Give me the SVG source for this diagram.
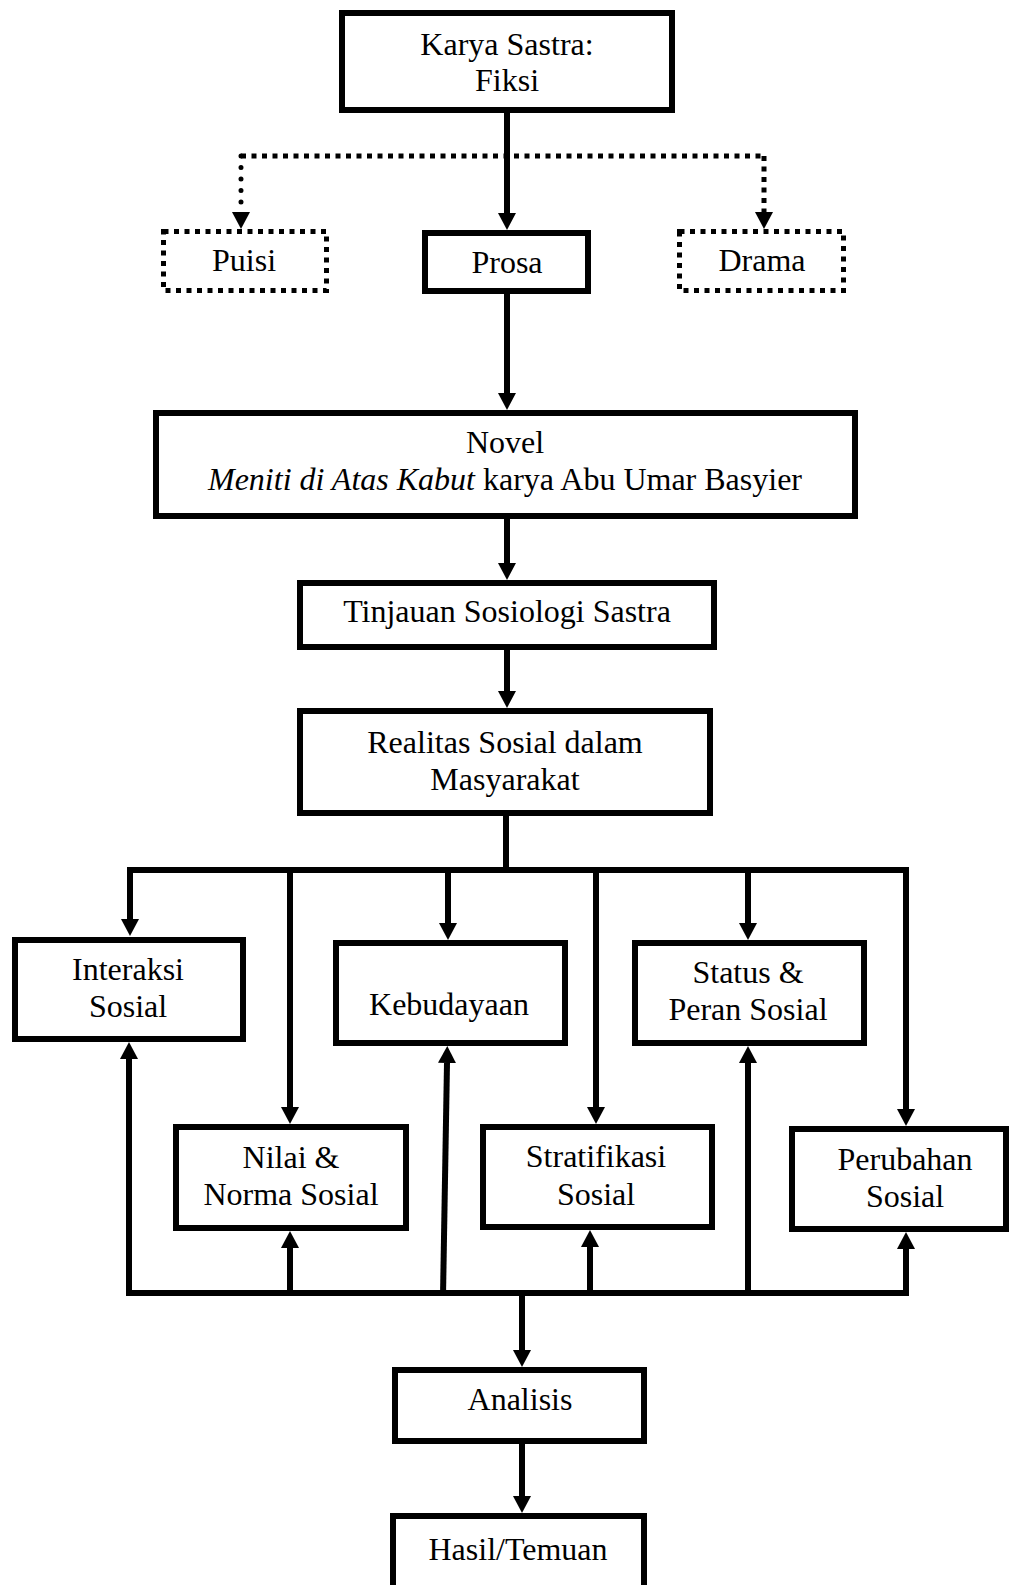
<svg xmlns="http://www.w3.org/2000/svg" width="1009" height="1585" viewBox="0 0 1009 1585">
<style>
.box{fill:#fff;stroke:#000;stroke-width:6}
.dbox{fill:#fff;stroke:#000;stroke-width:5;stroke-dasharray:5 5.5}
.ln{fill:none;stroke:#000;stroke-width:6}
.arr{fill:none;stroke:#000;stroke-width:6;marker-end:url(#ah)}
.dot{fill:none;stroke:#000;stroke-width:5;stroke-dasharray:5 5.5}
.t{font-family:"Liberation Serif","Times New Roman",serif;font-size:32px;fill:#000;text-anchor:middle}
</style>
<defs>
<marker id="ah" markerUnits="userSpaceOnUse" markerWidth="18" markerHeight="18" viewBox="0 0 18 18" refX="0" refY="9" orient="auto">
<path d="M0,0 L17,9 L0,18 z" fill="#000"/>
</marker>
</defs>
<rect width="1009" height="1585" fill="#fff"/>
<g id="connectors">
<line class="arr" x1="507" y1="113" x2="507" y2="213"/>
<line class="dot" x1="241" y1="156" x2="764" y2="156"/>
<line class="ln" x1="241" y1="156" x2="241" y2="212" style="stroke-width:5;stroke-dasharray:0 11.5;stroke-linecap:round;marker-end:url(#ah)"/>
<line class="dot" x1="764" y1="156" x2="764" y2="212" style="marker-end:url(#ah)"/>
<line class="arr" x1="507" y1="294" x2="507" y2="393"/>
<line class="arr" x1="507" y1="519" x2="507" y2="563"/>
<line class="arr" x1="507" y1="650" x2="507" y2="691"/>
<line class="ln" x1="506" y1="816" x2="506" y2="870"/>
<line class="ln" x1="127" y1="870" x2="909" y2="870"/>
<line class="arr" x1="130" y1="867" x2="130" y2="919"/>
<line class="arr" x1="290" y1="867" x2="290" y2="1107"/>
<line class="arr" x1="448" y1="867" x2="448" y2="923"/>
<line class="arr" x1="596" y1="867" x2="596" y2="1107"/>
<line class="arr" x1="748" y1="867" x2="748" y2="923"/>
<line class="arr" x1="906" y1="867" x2="906" y2="1109"/>
<line class="ln" x1="126" y1="1293" x2="909" y2="1293"/>
<line class="arr" x1="129" y1="1296" x2="129" y2="1059"/>
<line class="arr" x1="290" y1="1296" x2="290" y2="1248"/>
<line class="arr" x1="443" y1="1296" x2="447" y2="1063"/>
<line class="arr" x1="590" y1="1296" x2="590" y2="1247"/>
<line class="arr" x1="748" y1="1296" x2="748" y2="1063"/>
<line class="arr" x1="906" y1="1296" x2="906" y2="1249"/>
<line class="arr" x1="522" y1="1290" x2="522" y2="1350"/>
<line class="arr" x1="522" y1="1444" x2="522" y2="1496"/>
</g>
<g id="karya"><rect class="box" x="342" y="13" width="330" height="97"/><text class="t" x="507" y="55">Karya Sastra:</text><text class="t" x="507" y="91">Fiksi</text></g>
<g id="puisi"><rect class="dbox" x="163.5" y="231.5" width="163" height="59"/><text class="t" x="244" y="271">Puisi</text></g>
<g id="prosa"><rect class="box" x="425" y="233" width="163" height="58"/><text class="t" x="507" y="273">Prosa</text></g>
<g id="drama"><rect class="dbox" x="679.5" y="231.5" width="164" height="59"/><text class="t" x="762" y="271">Drama</text></g>
<g id="novel"><rect class="box" x="156" y="413" width="699" height="103"/><text class="t" x="505" y="453">Novel</text><text class="t" x="505" y="490"><tspan font-style="italic">Meniti di Atas Kabut</tspan> karya Abu Umar Basyier</text></g>
<g id="tinjauan"><rect class="box" x="300" y="583" width="414" height="64"/><text class="t" x="507" y="622">Tinjauan Sosiologi Sastra</text></g>
<g id="realitas"><rect class="box" x="300" y="711" width="410" height="102"/><text class="t" x="505" y="753">Realitas Sosial dalam</text><text class="t" x="505" y="790">Masyarakat</text></g>
<g id="interaksi"><rect class="box" x="15" y="940" width="228" height="99"/><text class="t" x="128" y="980">Interaksi</text><text class="t" x="128" y="1017">Sosial</text></g>
<g id="kebudayaan"><rect class="box" x="336" y="943" width="229" height="100"/><text class="t" x="449" y="1015">Kebudayaan</text></g>
<g id="status"><rect class="box" x="635" y="943" width="229" height="100"/><text class="t" x="748" y="983">Status &amp;</text><text class="t" x="748" y="1020">Peran Sosial</text></g>
<g id="nilai"><rect class="box" x="176" y="1127" width="230" height="101"/><text class="t" x="291" y="1168">Nilai &amp;</text><text class="t" x="291" y="1205">Norma Sosial</text></g>
<g id="stratifikasi"><rect class="box" x="483" y="1127" width="229" height="100"/><text class="t" x="596" y="1167">Stratifikasi</text><text class="t" x="596" y="1205">Sosial</text></g>
<g id="perubahan"><rect class="box" x="792" y="1129" width="214" height="100"/><text class="t" x="905" y="1170">Perubahan</text><text class="t" x="905" y="1207">Sosial</text></g>
<g id="analisis"><rect class="box" x="395" y="1370" width="249" height="71"/><text class="t" x="520" y="1410">Analisis</text></g>
<g id="hasil"><rect class="box" x="393" y="1516" width="251" height="100"/><text class="t" x="518" y="1560">Hasil/Temuan</text></g>
</svg>
